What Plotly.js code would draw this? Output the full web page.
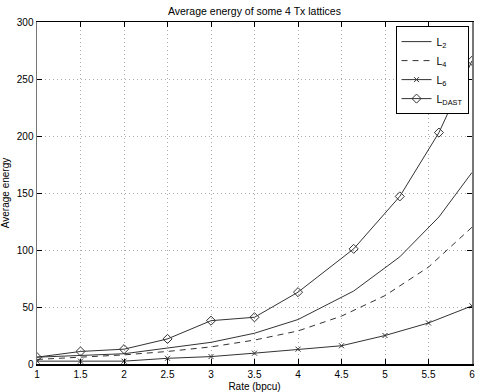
<!DOCTYPE html>
<html>
<head>
<meta charset="utf-8">
<script src="https://cdn.plot.ly/plotly-3.0.1.min.js"></script>
<style>html,body{margin:0;padding:0;background:#fff}#chart{width:481px;height:392px}</style>
</head>
<body>
<div id="chart"></div>
<script>
// Data
const rateRegular = [1, 1.5, 2, 2.5, 3, 3.5, 4, 4.5, 5, 5.5, 6];
const rateDense = [1, 1.5, 2, 2.5, 3, 3.5, 4, 4.64, 5.17, 5.62, 6];
const L2 = [6, 7.5, 9, 14, 19, 27, 39, 64, 94, 129, 168];
const L4 = [4, 6, 8, 11, 15, 21, 29, 42, 60, 85, 120];
const L6 = [2.5, 2.5, 2.5, 5, 6.5, 9.5, 13, 16, 25, 36, 51];
const LDAST = [6, 11, 13, 22, 38, 41, 63, 101, 147, 203, 266];
const names = ["L<sub>2</sub>", "L<sub>4</sub>", "L<sub>6</sub>", "L<sub>DAST</sub>"];
const xTicks = [1, 1.5, 2, 2.5, 3, 3.5, 4, 4.5, 5, 5.5, 6];
const yTicks = [0, 50, 100, 150, 200, 250, 300];

const lc = '#333';
const traces = [
  {x: rateDense, y: L2, name: names[0], mode: 'lines', line: {color: lc, width: 1}},
  {x: rateRegular, y: L4, name: names[1], mode: 'lines', line: {color: lc, width: 1, dash: '6px,5px'}},
  {x: rateRegular, y: L6, name: names[2], mode: 'lines+markers', line: {color: lc, width: 1},
   marker: {symbol: 'x-thin-open', size: 5, color: lc, line: {color: lc, width: 1}}},
  {x: rateDense, y: LDAST, name: names[3], mode: 'lines+markers', line: {color: lc, width: 1},
   marker: {symbol: 'diamond-open', size: 7, color: lc, line: {color: lc, width: 1}}}
];

const font = {family: 'Liberation Sans, Arial, Helvetica, sans-serif', size: 10, color: '#000'};
const layout = {
  width: 481, height: 392,
  margin: {l: 37, r: 9, t: 22, b: 28, pad: 0},
  paper_bgcolor: '#fff', plot_bgcolor: '#fff',
  font: font,
  showlegend: true,
  title: {text: 'Average energy of some 4 Tx lattices', font: {family: font.family, size: 10.5, color: '#000'},
          x: 0.529, xanchor: 'center', y: 0.972, yanchor: 'middle'},
  xaxis: {
    range: [1, 6], tickvals: xTicks, ticktext: xTicks.map(String),
    showline: true, linecolor: '#000', linewidth: 1.5, mirror: 'ticks',
    ticks: 'inside', ticklen: 5, tickcolor: '#000',
    showgrid: true, gridcolor: '#aaa', griddash: '1px,3px', gridwidth: 1, zeroline: false,
    title: {text: 'Rate (bpcu)', font: {family: font.family, size: 10, color: '#000'}, standoff: 4},
    tickfont: font
  },
  yaxis: {
    range: [0, 300], tickvals: yTicks, ticktext: yTicks.map(String),
    showline: true, linecolor: '#777', linewidth: 1.5, mirror: 'ticks',
    ticks: 'inside', ticklen: 5, tickcolor: '#000',
    showgrid: true, gridcolor: '#aaa', griddash: '1px,3px', gridwidth: 1, zeroline: false,
    title: {text: 'Average energy', font: {family: font.family, size: 10, color: '#000'}, standoff: 6},
    tickfont: font
  },
  legend: {
    x: 0.992, xanchor: 'right', y: 0.988, yanchor: 'top',
    bgcolor: '#fff', bordercolor: '#000', borderwidth: 1,
    font: {family: font.family, size: 10.5, color: '#000'},
    itemwidth: 30, tracegroupgap: 0
  }
};
Plotly.newPlot('chart', traces, layout, {displayModeBar: false, staticPlot: true});
</script>
</body>
</html>
